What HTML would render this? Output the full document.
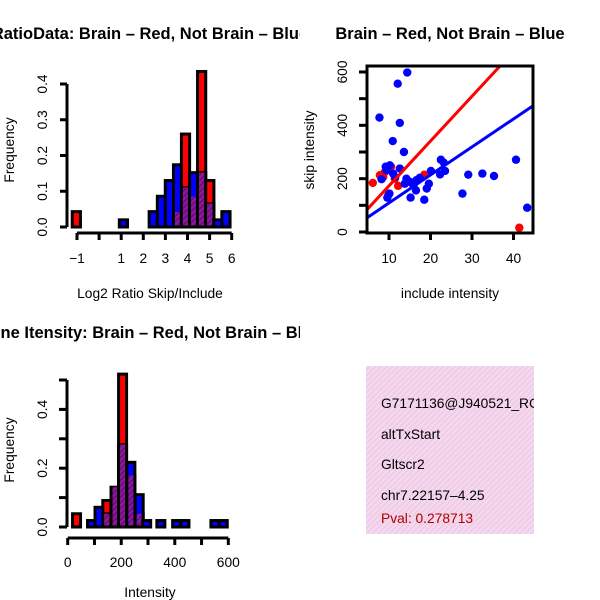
<!DOCTYPE html>
<html><head><meta charset="utf-8"><style>
html,body{margin:0;padding:0;background:#fff;}
svg{display:block;font-family:"Liberation Sans",sans-serif;}
</style></head><body>
<svg id="chart" width="600" height="600" viewBox="0 0 600 600" xmlns="http://www.w3.org/2000/svg">
<defs>
<pattern id="hatch" width="4" height="4" patternUnits="userSpaceOnUse" patternTransform="rotate(45)">
<rect width="4" height="4" fill="#8a1a9a"/><rect width="1.6" height="4" fill="#6a0a80"/>
</pattern>
<pattern id="pinkhatch" width="4" height="4" patternUnits="userSpaceOnUse" patternTransform="rotate(45)">
<rect width="4" height="4" fill="#f7d6f0"/><rect width="1.3" height="4" fill="#e8cce0"/>
</pattern>
<clipPath id="clipL"><rect x="0" y="0" width="300" height="600"/></clipPath>
<clipPath id="clipScatter"><rect x="367" y="66" width="166" height="167"/></clipPath>
<clipPath id="clipText"><rect x="366" y="366" width="168" height="168"/></clipPath>
</defs>
<g id="root"></g>
</svg>
<script>
// ---- Ratio histogram data ----
const ratioBins = [-1.03, 1.1, 2.45, 2.82, 3.18, 3.55, 3.91, 4.28, 4.64, 5.01, 5.37, 5.74];
const ratioRed  = [0.043, 0, 0, 0, 0, 0.042, 0.26, 0.085, 0.435, 0.13, 0, 0];
const ratioBlue = [0, 0.02, 0.043, 0.086, 0.13, 0.174, 0.11, 0.152, 0.152, 0.065, 0.02, 0.043];
const ratioXTicks = [-1, 1, 2, 3, 4, 5, 6];
const ratioXTickMarks = [-1, 0, 1, 2, 3, 4, 5, 6];
const ratioYTicks = [0, 0.1, 0.2, 0.3, 0.4];
// ---- Intensity histogram data ----
const intBins = [33, 89, 117, 146, 177, 205, 236, 267, 295, 348, 407, 438, 550, 581];
const intRed  = [0.045, 0, 0, 0.09, 0.135, 0.52, 0.175, 0.045, 0, 0, 0, 0, 0, 0];
const intBlue = [0, 0.022, 0.067, 0.045, 0.135, 0.28, 0.22, 0.11, 0.022, 0.022, 0.022, 0.022, 0.022, 0.022];
const intXTicks = [0, 200, 400, 600];
const intXTickMarks = [0, 100, 200, 300, 400, 500, 600];
const intYTicks = [0, 0.2, 0.4];
const intYTickMarks = [0, 0.1, 0.2, 0.3, 0.4, 0.5];
// ---- Scatter data ----
const blueX = [14.4,12.1,7.7,12.6,10.9,13.6,22.5,23.2,40.6,8.2,9.4,10.2,12.6,11,14.2,15,16.6,17.4,16.5,15.2,18.5,19.1,19.6,20.1,22.3,23.5,29.1,27.7,32.5,35.3,43.3,9.6,10.1,13.8,15.9,9.2,11.5];
const blueY = [598,556,429,409,341,300,271,260,271,198,231,250,238,219,200,188,194,203,156,129,121,163,181,229,216,229,215,144,219,210,91,129,144,181,175,245,205];
const redX = [6.1,7.8,9,9.8,12.2,18.5,41.4,8.6,11.4,10.5];
const redY = [184,213,225,138,173,215,16,206,200,245];
const fitRed = [5, 16.8];   // intercept, slope
const fitBlue = [4, 10.5];
const scatterXTicks = [10, 20, 30, 40];
const scatterYTicks = [0, 200, 400, 600];
const scatterYTickMarks = [0, 100, 200, 300, 400, 500, 600];
// ---- Text panel ----
const infoLines = ["G7171136@J940521_RC", "altTxStart", "Gltscr2", "chr7.22157\u20134.25"];
const pvalText = "Pval: 0.278713";

const FS = 13.8, TS = 16.5;
const NS = "http://www.w3.org/2000/svg";
const root = document.getElementById("root");
function mk(tag, attrs, parent, text) {
  const e = document.createElementNS(NS, tag);
  for (const k in attrs) e.setAttribute(k, attrs[k]);
  if (text !== undefined) e.textContent = text;
  (parent || root).appendChild(e);
  return e;
}

function histogram(g, bins, red, blue, xs, ys, halfW) {
  for (let i = 0; i < bins.length; i++) {
    const x0 = xs(bins[i]) - halfW, w = halfW * 2;
    const r = red[i], b = blue[i], m = Math.min(r, b);
    if (r > 0) {
      const e = mk("rect", {x: x0, y: ys(r), width: w, height: ys(0) - ys(r), fill: "#ff0000", stroke: "#000", "stroke-width": 3}, g);
      
      
    }
    if (b > 0) {
      const e = mk("rect", {x: x0, y: ys(b), width: w, height: ys(0) - ys(b), fill: "#0000ff", stroke: "#000", "stroke-width": 3}, g);
      
      
    }
    if (r > 0 && b > 0 && r >= b) {
      const e = mk("rect", {x: x0 + 1.5, y: ys(b), width: w - 3, height: ys(0) - ys(b) - 1.5, fill: "#ff0000"}, g);
      
      
    }
    if (m > 0) {
      const e = mk("rect", {x: x0 + 1.5, y: ys(m), width: w - 3, height: ys(0) - ys(m) - 1.5, fill: "url(#hatch)"}, g);
      
      
    }
  }
}

// ===== Top-left histogram =====
{
  const g = mk("g", {"clip-path": "url(#clipL)"});
  
  
  const xs = v => 77 + (v + 1) * 22.1;
  const ys = v => 227 - v * 357.5;
  histogram(g, ratioBins, ratioRed, ratioBlue, xs, ys, 4.1);
  mk("line", {x1: 67, x2: 67, y1: ys(0), y2: ys(0.4), stroke: "#000", "stroke-width": 3}, g);
  ratioYTicks.forEach(v => {
    mk("line", {x1: 60, x2: 67, y1: ys(v), y2: ys(v), stroke: "#000", "stroke-width": 3}, g);
    const t = mk("text", {x: 47, y: ys(v), "font-size": FS, "text-anchor": "middle", transform: `rotate(-90 47 ${ys(v)})`}, g, v.toFixed(1));
    
    
  });
  mk("line", {x1: xs(-1), x2: xs(6), y1: 233, y2: 233, stroke: "#000", "stroke-width": 3}, g);
  ratioXTickMarks.forEach(v => mk("line", {x1: xs(v), x2: xs(v), y1: 233, y2: 240, stroke: "#000", "stroke-width": 3}, g));
  ratioXTicks.forEach(v => {
    const t = mk("text", {x: xs(v), y: 263, "font-size": FS, "text-anchor": "middle"}, g, v < 0 ? "\u2212" + (-v) : String(v));
    
    
  });
  const ti = mk("text", {x: 150, y: 39, "font-size": TS, "font-weight": "bold", "text-anchor": "middle"}, g, "RatioData: Brain \u2013 Red, Not Brain \u2013 Blue");
  
  
  const xl = mk("text", {x: 150, y: 298, "font-size": FS, "text-anchor": "middle"}, g, "Log2 Ratio Skip/Include");
  
  
  const yl = mk("text", {x: 14, y: 150, "font-size": FS, "text-anchor": "middle", transform: "rotate(-90 14 150)"}, g, "Frequency");
  
  
}

// ===== Bottom-left histogram =====
{
  const g = mk("g", {"clip-path": "url(#clipL)"});
  
  
  const xs = v => 67.7 + v * 0.2677;
  const ys = v => 527 - v * 294;
  histogram(g, intBins, intRed, intBlue, xs, ys, 4.0);
  mk("line", {x1: 67, x2: 67, y1: ys(0), y2: ys(0.5), stroke: "#000", "stroke-width": 3}, g);
  intYTickMarks.forEach(v => mk("line", {x1: 59, x2: 67, y1: ys(v), y2: ys(v), stroke: "#000", "stroke-width": 3}, g));
  intYTicks.forEach(v => {
    const t = mk("text", {x: 47, y: ys(v), "font-size": FS, "text-anchor": "middle", transform: `rotate(-90 47 ${ys(v)})`}, g, v.toFixed(1));
    
    
  });
  mk("line", {x1: xs(0), x2: xs(600), y1: 538, y2: 538, stroke: "#000", "stroke-width": 3}, g);
  intXTickMarks.forEach(v => mk("line", {x1: xs(v), x2: xs(v), y1: 538, y2: 545, stroke: "#000", "stroke-width": 3}, g));
  intXTicks.forEach(v => {
    const t = mk("text", {x: xs(v), y: 567, "font-size": FS, "text-anchor": "middle"}, g, String(v));
    
    
  });
  const ti = mk("text", {x: 150, y: 338, "font-size": TS, "font-weight": "bold", "text-anchor": "middle"}, g, "Gene Itensity: Brain \u2013 Red, Not Brain \u2013 Blue");
  
  
  const xl = mk("text", {x: 150, y: 597, "font-size": FS, "text-anchor": "middle"}, g, "Intensity");
  
  
  const yl = mk("text", {x: 14, y: 450, "font-size": FS, "text-anchor": "middle", transform: "rotate(-90 14 450)"}, g, "Frequency");
  
  
}

// ===== Scatter =====
{
  const g = mk("g", {});
  
  
  const xs = v => 389 + (v - 10) * 4.15;
  const ys = v => 232 - v * 0.2667;
  const pg = mk("g", {"clip-path": "url(#clipScatter)"}, g);
  for (let i = 0; i < redX.length; i++) {
    const c = mk("circle", {cx: xs(redX[i]), cy: ys(redY[i]), r: 4.2, fill: "#ff0000"}, pg);
    
    
  }
  for (let i = 0; i < blueX.length; i++) {
    const c = mk("circle", {cx: xs(blueX[i]), cy: ys(blueY[i]), r: 4.2, fill: "#0000ff"}, pg);
    
    
  }
  const lr = mk("line", {x1: xs(0), y1: ys(fitRed[0]), x2: xs(50), y2: ys(fitRed[0] + fitRed[1] * 50), stroke: "#ff0000", "stroke-width": 3}, pg);
  
  
  const lb = mk("line", {x1: xs(0), y1: ys(fitBlue[0]), x2: xs(50), y2: ys(fitBlue[0] + fitBlue[1] * 50), stroke: "#0000ff", "stroke-width": 3}, pg);
  
  
  mk("rect", {x: 367, y: 66, width: 166, height: 167, fill: "none", stroke: "#000", "stroke-width": 3}, g);
  scatterYTickMarks.forEach(v => mk("line", {x1: 359, x2: 367, y1: ys(v), y2: ys(v), stroke: "#000", "stroke-width": 3}, g));
  scatterYTicks.forEach(v => {
    const t = mk("text", {x: 347, y: ys(v), "font-size": FS, "text-anchor": "middle", transform: `rotate(-90 347 ${ys(v)})`}, g, String(v));
    
    
  });
  scatterXTicks.forEach(v => {
    mk("line", {x1: xs(v), x2: xs(v), y1: 233, y2: 240, stroke: "#000", "stroke-width": 3}, g);
    const t = mk("text", {x: xs(v), y: 263, "font-size": FS, "text-anchor": "middle"}, g, String(v));
    
    
  });
  const ti = mk("text", {x: 450, y: 39, "font-size": TS, "font-weight": "bold", "text-anchor": "middle"}, g, "Brain \u2013 Red, Not Brain \u2013 Blue");
  
  
  const xl = mk("text", {x: 450, y: 298, "font-size": FS, "text-anchor": "middle"}, g, "include intensity");
  
  
  const yl = mk("text", {x: 314, y: 150, "font-size": FS, "text-anchor": "middle", transform: "rotate(-90 314 150)"}, g, "skip intensity");
  
  
}

// ===== Text panel =====
{
  const g = mk("g", {"clip-path": "url(#clipText)"});
  
  
  mk("rect", {x: 366, y: 366, width: 168, height: 168, fill: "url(#pinkhatch)"}, g);
  const ys = [408, 439, 469, 500];
  infoLines.forEach((s, i) => {
    const t = mk("text", {x: 381, y: ys[i], "font-size": FS, fill: "#000"}, g, s);
    
    
  });
  const p = mk("text", {x: 381, y: 523, "font-size": FS, fill: "#b00000"}, g, pvalText);
  
  
}
</script>
</body></html>
